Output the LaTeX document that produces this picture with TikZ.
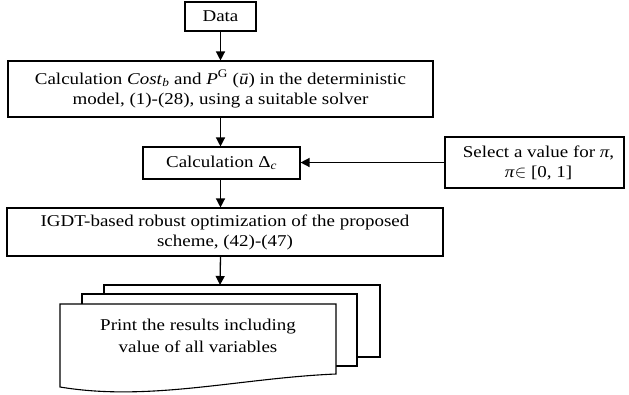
\documentclass[tikz,border=0pt]{standalone}
\usepackage{fontspec}
\setmainfont[FakeStretch=1.15]{Liberation Serif}
\usetikzlibrary{arrows.meta,calc}
\begin{document}
\begin{tikzpicture}[x=1pt,y=-1pt,
 box/.style={draw, line width=1.1pt, fill=white, inner sep=0pt, align=center, font=\fontsize{16.5}{20}\selectfont},
 arr/.style={line width=1.3pt, -{Triangle[length=9pt,width=9pt]}},
 doc/.style={draw, line width=1.1pt, fill=white, line join=miter}]
\useasboundingbox (0,0) rectangle (629,394);
\node[box, minimum width=71pt, minimum height=29pt] (data) at (220.5,16.5) {Data};
\node[box, minimum width=425pt, minimum height=56pt] (calcone) at (220.5,89)
  {Calculation \textit{Cost}\textsubscript{\textit{b}} and \textit{P}\textsuperscript{G} (\textit{ū}) in the deterministic\\ model, (1)-(28), using a suitable solver};
\node[box, minimum width=157pt, minimum height=32pt] (calc) at (221.5,163) {Calculation Δ\textsubscript{\textit{c}}};
\node[box, minimum width=179pt, minimum height=51pt] (select) at (534.5,162.5)
  {\hspace*{8pt}Select a value for \textit{π},\\ \hspace*{8pt}\textit{π}$\in$ [0, 1]};
\node[box, minimum width=436pt, minimum height=48pt] (igdt) at (225,232)
  {IGDT-based robust optimization of the proposed\\ scheme, (42)-(47)};
% document stack
\draw[doc] (104,285) rectangle (380,357);
\draw[doc] (82,294) rectangle (357,366);
\draw[doc] (60,304) -- (336,304) -- (336,374) .. controls (240,378) and (150,402) .. (60,387) -- cycle;
\coordinate (doctop) at (220,285);
\node[font=\fontsize{16.5}{22}\selectfont, align=center] (print) at (198,336)
  {Print the results including\\ value of all variables};
% connectors
\draw[arr] (data.south) -- (calcone.north);
\draw[arr] (calcone.south) -- (calcone.south |- calc.north);
\draw[arr] (select.west) -- (select.west -| calc.east);
\draw[arr] (calcone.south |- calc.south) -- (calcone.south |- igdt.north);
\draw[arr] (calcone.south |- igdt.south) -- (doctop);
\end{tikzpicture}
\end{document}
